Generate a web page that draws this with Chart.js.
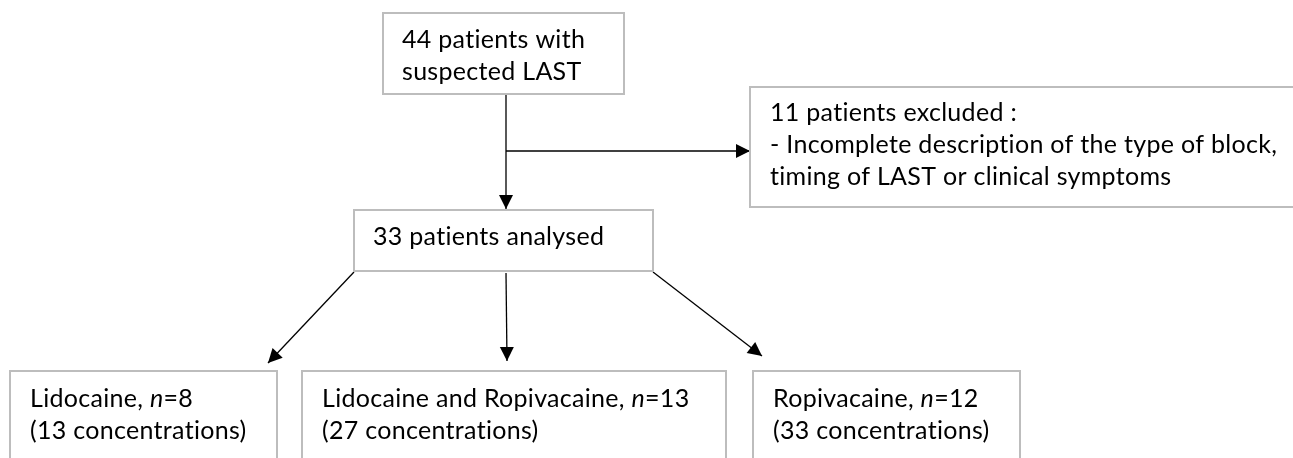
<!DOCTYPE html>
<html>
<head>
<meta charset="utf-8">
<script src="https://cdn.jsdelivr.net/npm/chart.js@4.4.1/dist/chart.umd.min.js"></script>
<style>
  html, body { margin: 0; padding: 0; background: #fff; }
  #wrap { width: 1293px; height: 458px; position: relative; }
</style>
</head>
<body>
<div id="wrap"><canvas id="flow"></canvas></div>
<script>
// flow chart numbers
let totalPatients = 44;
let excludedPatients = 11;
let analysedPatients = 33;
let groupNames = ["Lidocaine", "Lidocaine and Ropivacaine", "Ropivacaine"];
let groupN = [8, 13, 12];
let groupConcentrations = [13, 27, 33];
let exclusionReason = ["- Incomplete description of the type of block,", "timing of LAST or clinical symptoms"];

// box layout in page units (x, y, w, h) - separate from the data
const boxes = [
    { x: 383, y: 13, w: 241, h: 81 },     // all patients
    { x: 750, y: 87, w: 560, h: 120 },    // excluded
    { x: 354, y: 210, w: 299, h: 61 },    // analysed
    { x: 10, y: 371, w: 267, h: 100 },    // group 1
    { x: 302, y: 371, w: 424, h: 100 },   // group 2
    { x: 753, y: 371, w: 267, h: 100 }    // group 3
];

// text for each box, every line is a list of [text, italic]
const boxText = [
    [[[totalPatients + " patients with", false]], [["suspected LAST", false]]],
    [[[excludedPatients + " patients excluded :", false]], [[exclusionReason[0], false]], [[exclusionReason[1], false]]],
    [[[analysedPatients + " patients analysed", false]]]
];
groupNames.forEach((name, i) => {
    boxText.push([
        [[name + ", ", false], ["n", true], ["=" + groupN[i], false]],
        [["(" + groupConcentrations[i] + " concentrations)", false]]
    ]);
});
const textStart = [[402, 40], [770, 113], [373, 237], [30, 399], [322, 399], [773, 399]];
const lineGap = 32;

// arrows: [from, to]
const arrows = [
    [[506, 94], [506, 209]],
    [[506, 151], [750, 151]],
    [[354, 272], [268, 363]],
    [[506, 273], [507, 361]],
    [[653, 272], [762, 356]]
];

const fontFamily = "Lato, 'DejaVu Sans', sans-serif";
const fontSize = 25;

const boxPlugin = {
    id: "boxes",
    afterDatasetsDraw(chart) {
        const ctx = chart.ctx;
        const xs = chart.scales.x, ys = chart.scales.y;
        ctx.save();
        // arrow heads
        chart.data.datasets.forEach((ds, di) => {
            const pts = chart.getDatasetMeta(di).data;
            const a = pts[0], b = pts[pts.length - 1];
            const ang = Math.atan2(b.y - a.y, b.x - a.x);
            const len = 14, half = 7;
            ctx.fillStyle = "#000";
            ctx.beginPath();
            ctx.moveTo(b.x, b.y);
            ctx.lineTo(b.x - len * Math.cos(ang) + half * Math.sin(ang), b.y - len * Math.sin(ang) - half * Math.cos(ang));
            ctx.lineTo(b.x - len * Math.cos(ang) - half * Math.sin(ang), b.y - len * Math.sin(ang) + half * Math.cos(ang));
            ctx.closePath();
            ctx.fill();
        });
        // boxes
        boxes.forEach((bx, i) => {
            const x0 = xs.getPixelForValue(bx.x), x1 = xs.getPixelForValue(bx.x + bx.w);
            const y0 = ys.getPixelForValue(bx.y), y1 = ys.getPixelForValue(bx.y + bx.h);
            ctx.fillStyle = "#fff";
            ctx.fillRect(x0, y0, x1 - x0, y1 - y0);
            ctx.strokeStyle = "#bdbdbd";
            ctx.lineWidth = 2;
            ctx.strokeRect(x0, y0, x1 - x0, y1 - y0);

            ctx.fillStyle = "#000";
            ctx.textBaseline = "middle";
            ctx.letterSpacing = "0.3px"; // also stops the ti ligature
            boxText[i].forEach((line, li) => {
                let tx = xs.getPixelForValue(textStart[i][0]);
                const ty = ys.getPixelForValue(textStart[i][1] + li * lineGap);
                line.forEach(([txt, italic]) => {
                    ctx.font = (italic ? "italic " : "") + fontSize + "px " + fontFamily;
                    ctx.fillText(txt, tx, ty);
                    tx += ctx.measureText(txt).width;
                });
            });
        });
        ctx.restore();
    }
};

new Chart(document.getElementById("flow"), {
    type: "scatter",
    data: {
        datasets: arrows.map(a => ({
            data: a.map(p => ({ x: p[0], y: p[1] })),
            showLine: true,
            borderColor: "#000",
            borderWidth: 1.3,
            pointRadius: 0
        }))
    },
    options: {
        responsive: true,
        maintainAspectRatio: false,
        animation: false,
        layout: { padding: 0 },
        plugins: { legend: { display: false }, tooltip: { enabled: false } },
        scales: {
            x: { type: "linear", min: 0, max: 1293, display: false },
            y: { type: "linear", min: 0, max: 458, reverse: true, display: false }
        }
    },
    plugins: [boxPlugin]
});
</script>
</body>
</html>
